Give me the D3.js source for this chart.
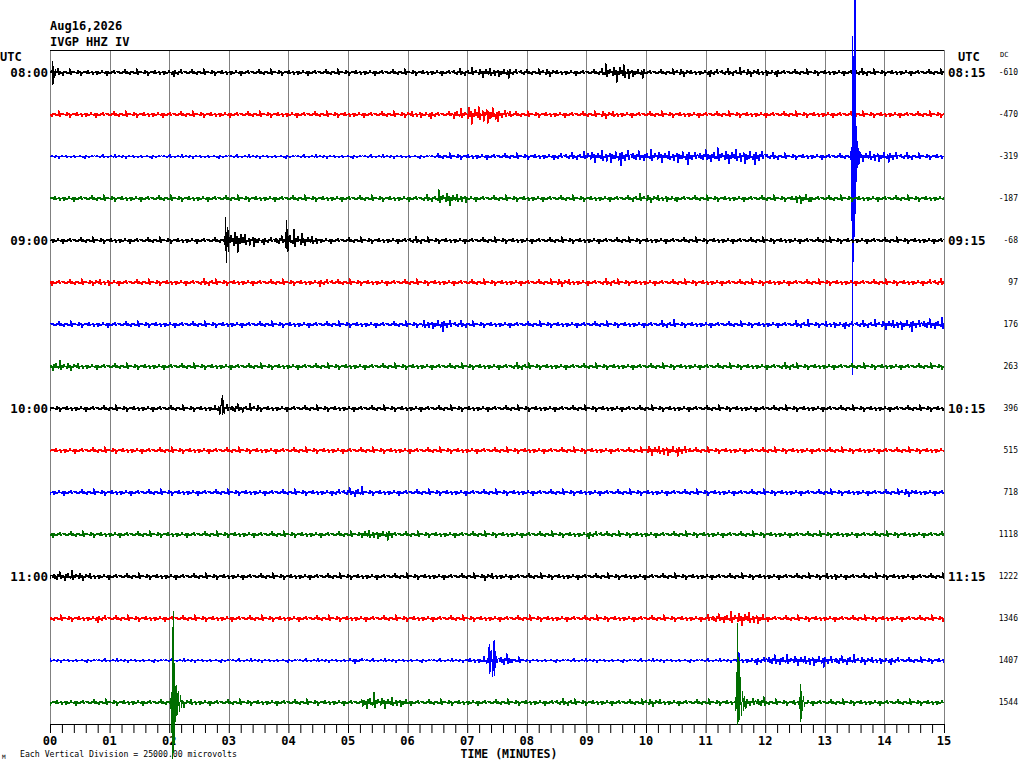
<!DOCTYPE html>
<html>
<head>
<meta charset="utf-8">
<script src="https://cdn.jsdelivr.net/npm/d3@7"></script>
<style>
  body { margin: 0; background: #fff; }
  text { font-family: "DejaVu Sans Mono", "Liberation Mono", monospace; }
</style>
</head>
<body>
<div id="heli"></div>
<script>
// station header
var stationDate = "Aug16,2026";
var stationName = "IVGP HHZ IV";
var scaleNote = "Each Vertical Division = 25000.00 microvolts";

// one line per 15 minutes, colours cycle black/red/blue/green
var traceColors = ["#000000", "#ff0000", "#0000ff", "#006e00"];
var leftTimes = ["08:00", "09:00", "10:00", "11:00"];
var rightTimes = ["08:15", "09:15", "10:15", "11:15"];
var dcValues = [-610, -470, -319, -187, -68, 97, 176, 263, 396, 515, 718, 1118, 1222, 1346, 1407, 1544];
var minuteLabels = ["00","01","02","03","04","05","06","07","08","09","10","11","12","13","14","15"];

// noise level per 15 s (units of 0.5 kuV, base 36), one string per line
var envelopes = [
  "4333 3333 4333 3333 3333 3333 3334 4554 3433 3795 3343 4444 4333 3343 3333",
  "3333 3333 3333 3333 3333 3333 4435 9a63 3333 3433 3333 3333 3333 3333 3333",
  "2222 2222 2222 2222 2222 2222 2233 3333 3344 6786 6676 7787 4333 3356 5433",
  "3333 3333 3333 3333 3333 3333 3475 3333 3333 3334 4433 3333 3363 3333 3333",
  "3333 3333 3333 b745 9533 3333 4333 3333 3333 3333 3333 3333 3333 3333 3333",
  "3334 3333 3343 3333 3343 3333 3333 3333 3343 3433 3333 3333 3333 3333 3334",
  "3333 3333 3333 3333 3333 3333 3564 3333 3333 3333 3433 3333 3343 4444 5666",
  "5433 3333 3333 3333 3333 3333 3333 3334 3333 3333 3333 3333 3433 3333 3333",
  "3333 3333 3335 5433 3333 3333 3333 3333 3333 3333 3333 3333 3333 3333 3333",
  "3333 3333 3333 3333 3333 3333 3333 3333 3333 3333 5653 3333 3333 3333 3333",
  "3333 3333 3333 3333 3334 5333 3333 3333 3333 3333 3333 3333 3333 3333 3433",
  "3333 3333 3333 3333 3333 3553 3333 3333 3333 4333 3333 3333 3333 3333 3333",
  "5543 3333 3333 3333 3333 3333 3333 3433 3333 3333 3333 3333 3333 4333 3333",
  "3334 3333 3333 3333 3333 3333 3333 3333 3333 3333 3333 5676 3333 3333 3333",
  "2222 2222 2222 2222 2222 3222 2222 3673 2222 2222 2222 2234 6556 5544 4333",
  "3333 3333 5433 3333 3333 3865 3333 3333 3343 3333 4333 3356 3343 3333 3333"
];

// events: [minute, kuV] peaks
var events = [
  {trace: 0, pts: [[0.04, 7.1], [0.05, -7.7], [0.06, 3.6], [0.08, -3], [0.1, 1.8]]},
  {trace: 2, pts: [[13.43, 3], [13.445, -4.8], [13.455, 5.4], [13.46, -130], [13.47, 72], [13.48, -63],
                   [13.49, 60], [13.5, -48], [13.507, 101], [13.515, -34], [13.525, 18], [13.535, -15],
                   [13.545, 9], [13.555, -7], [13.57, 4.8], [13.59, -4.2]]},
  {trace: 4, pts: [[2.93, 2.4], [2.94, -6], [2.95, 13.7], [2.96, -13.1], [2.975, 8.3], [2.99, -7.1], [3.0, 6]]},
  {trace: 4, pts: [[3.95, 4.8], [3.96, -4.8], [3.97, 11.9], [3.98, -7.1], [3.99, 7.1], [4.0, -6]]},
  {trace: 8, pts: [[2.88, 3], [2.89, 8.3], [2.9, -3.6], [2.91, 4.8], [2.92, -3]]},
  {trace: 14, pts: [[7.36, 8.3], [7.37, -8.3], [7.38, 10.1], [7.39, -7.1], [7.41, 6], [7.43, -10.1],
                    [7.45, 11.9], [7.46, -9.5], [7.48, 5.4]]},
  {trace: 14, pts: [[11.56, 4.8], [11.57, -4.8]]},
  {trace: 15, pts: [[2.02, 2.4], [2.03, -3.6], [2.04, 6], [2.045, -17.9], [2.055, 45.2], [2.06, -33.9],
                    [2.07, 54.2], [2.08, -29.8], [2.09, 23.8], [2.1, -11.9], [2.115, 10.7], [2.13, -8.3],
                    [2.15, 7.1], [2.17, -5.4], [2.19, 4.2], [2.21, -3]]},
  {trace: 15, pts: [[11.5, 3], [11.51, -4.8], [11.52, 17.9], [11.53, -13.1], [11.54, 47.6], [11.55, -11.9],
                    [11.56, 26.8], [11.57, -10.7], [11.58, 14.9], [11.6, -8.3], [11.62, 7.1], [11.64, -4.8], [11.66, 3.6]]},
  {trace: 15, pts: [[12.57, 3], [12.58, -3.6], [12.59, 11.3], [12.6, -11.9], [12.61, 7.1], [12.62, -4.8],
                    [12.64, 3.6], [12.66, -2.4]]}
];

// texture of the wiggle inside one noise step
var wiggle = [0.3, -0.2, 0.5, -0.4, 0.2, -0.6, 0.4, -0.1, 1, -0.5, 0.3, -0.3, 0.2, -0.8, 0.4, -0.2, 0.6, -0.3, 0.1, -0.4,
              1.3, -0.7, 0.3, -0.2, 0.5, -0.1, 0.2, -0.5, 0.8, -0.3, 0.4, -1.1, 0.2, -0.3, 0.6, -0.2, 0.3, -0.4, 0.9, -0.6, 0.1,
              -0.2, 0.4, -0.7, 0.2, -0.1, 0.5, -0.9, 0.3, -0.4, 0.2, -0.3, 0.7, -0.2, 0.1, -0.5, 0.4, -1.2, 0.6, -0.3, 0.2,
              -0.6, 0.3, -0.1, 0.8, -0.4, 0.2];

var svg = d3.select("#heli")
  .append("svg")
    .attr("width", 1024)
    .attr("height", 768);

// scales: minutes across, line number down, kuV per division
var x = d3.scaleLinear().domain([0, 15]).range([50, 944]);
var y = d3.scaleLinear().domain([0, 15]).range([72, 702]);
var amp = d3.scaleLinear().domain([0, 25]).range([0, 42]);
var plotTop = 50, plotBottom = 724;

// minute grid
svg.selectAll(".grid")
  .data(d3.range(0, 16))
  .enter()
  .append("line")
    .attr("x1", function(d) { return Math.round(x(d)) + 0.5; })
    .attr("x2", function(d) { return Math.round(x(d)) + 0.5; })
    .attr("y1", plotTop)
    .attr("y2", plotBottom)
    .attr("stroke", "#808080")
    .attr("stroke-width", 1);

svg.append("line")
  .attr("x1", x(0)).attr("x2", x(15))
  .attr("y1", plotTop + 0.5).attr("y2", plotTop + 0.5)
  .attr("stroke", "#000");

// bottom axis, a tick every 12 s
svg.append("g")
  .attr("transform", "translate(0," + plotBottom + ")")
  .call(d3.axisBottom(x)
    .tickValues(d3.range(0, 76).map(function(d) { return d / 5; }))
    .tickSize(9)
    .tickSizeOuter(0)
    .tickFormat(""))
  .call(function(g) { g.selectAll("path, line").attr("stroke", "#000"); });

svg.selectAll(".mlab")
  .data(minuteLabels)
  .enter()
  .append("text")
    .attr("x", function(d, i) { return x(i); })
    .attr("y", 745)
    .attr("text-anchor", "middle")
    .style("font-size", "12px")
    .style("font-weight", "bold")
    .text(function(d) { return d; });

svg.append("text")
  .attr("x", 509).attr("y", 758)
  .attr("text-anchor", "middle")
  .style("font-size", "11.5px")
  .style("font-weight", "bold")
  .text("TIME (MINUTES)");

svg.append("text")
  .attr("x", 20).attr("y", 757)
  .style("font-size", "8.2px")
  .text(scaleNote);

svg.append("text")
  .attr("x", 2).attr("y", 759)
  .style("font-size", "6px")
  .text("M");

// header
svg.append("text").attr("x", 50).attr("y", 30)
  .style("font-size", "12px").style("font-weight", "bold").text(stationDate);
svg.append("text").attr("x", 50).attr("y", 46)
  .style("font-size", "12px").style("font-weight", "bold").text(stationName);

svg.append("text").attr("x", 0).attr("y", 61)
  .style("font-size", "12px").style("font-weight", "bold").text("UTC");
svg.append("text").attr("x", 958).attr("y", 61)
  .style("font-size", "12px").style("font-weight", "bold").text("UTC");
svg.append("text").attr("x", 1000).attr("y", 57)
  .style("font-size", "7px").text("DC");

// hour labels, left and right
svg.selectAll(".ltime")
  .data(leftTimes)
  .enter()
  .append("text")
    .attr("x", 48)
    .attr("y", function(d, i) { return y(i * 4) + 5; })
    .attr("text-anchor", "end")
    .style("font-size", "12.5px")
    .style("font-weight", "bold")
    .text(function(d) { return d; });

svg.selectAll(".rtime")
  .data(rightTimes)
  .enter()
  .append("text")
    .attr("x", 948)
    .attr("y", function(d, i) { return y(i * 4) + 5; })
    .style("font-size", "12.5px")
    .style("font-weight", "bold")
    .text(function(d) { return d; });

svg.selectAll(".dc")
  .data(dcValues)
  .enter()
  .append("text")
    .attr("x", 1018)
    .attr("y", function(d, i) { return y(i) + 3; })
    .attr("text-anchor", "end")
    .style("font-size", "8px")
    .text(function(d) { return d; });

// build one line of samples (one per pixel column)
function traceData(i) {
  var env = envelopes[i].replace(/ /g, "");
  var cols = Math.round(x(15) - x(0));
  var pts = [];
  for (var c = 0; c <= cols; c++) {
    var m = x.invert(x(0) + c);
    var k = Math.min(env.length - 1, Math.floor(m * 4));
    var lvl = parseInt(env[k], 36) * 0.6;
    pts.push([m, lvl * wiggle[(c + i * 11) % wiggle.length]]);
  }
  events.filter(function(e) { return e.trace === i; }).forEach(function(e) {
    var m0 = e.pts[0][0], m1 = e.pts[e.pts.length - 1][0];
    pts = pts.filter(function(p) { return p[0] < m0 || p[0] > m1; }).concat(e.pts);
  });
  pts.sort(function(a, b) { return a[0] - b[0]; });
  return pts;
}

svg.selectAll(".trace")
  .data(d3.range(0, 16))
  .enter()
  .append("path")
    .attr("fill", "none")
    .attr("stroke", function(d) { return traceColors[d % 4]; })
    .attr("stroke-width", 1)
    .attr("shape-rendering", "crispEdges")
    .attr("d", function(i) {
      return d3.line()
        .x(function(p) { return x(p[0]); })
        .y(function(p) { return y(i) + 0.5 - amp(p[1]); })(traceData(i));
    });
</script>
</body>
</html>
